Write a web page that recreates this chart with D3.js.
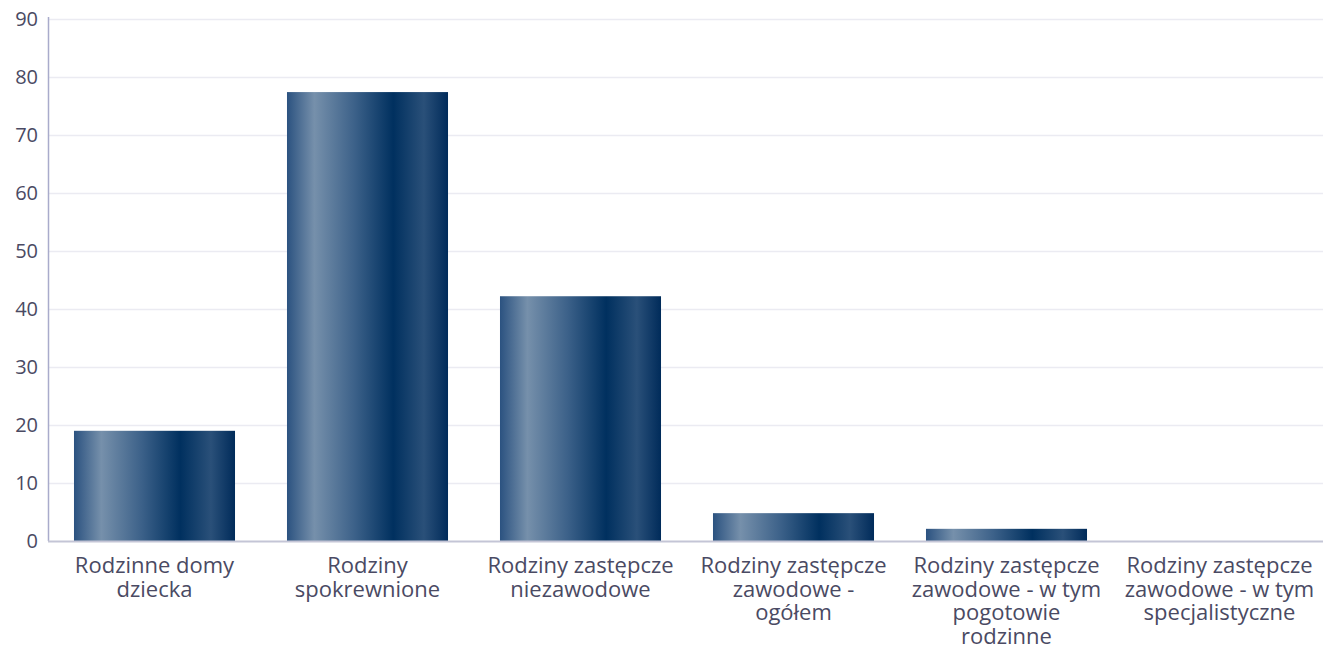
<!DOCTYPE html>
<html><head><meta charset="utf-8">
<script src="https://cdn.jsdelivr.net/npm/d3@7"></script>
<style>html,body{margin:0;padding:0;background:#fff;}svg{display:block;font-family:"Open Sans","Noto Sans",sans-serif;}</style>
</head><body>
<svg id="c" width="1323" height="647"></svg>
<script>
const categories = [
  "Rodzinne domy dziecka",
  "Rodziny spokrewnione",
  "Rodziny zastępcze niezawodowe",
  "Rodziny zastępcze zawodowe - ogółem",
  "Rodziny zastępcze zawodowe - w tym pogotowie rodzinne",
  "Rodziny zastępcze zawodowe - w tym specjalistyczne"
];
const labelLines = [
  ["Rodzinne domy", "dziecka"],
  ["Rodziny", "spokrewnione"],
  ["Rodziny zastępcze", "niezawodowe"],
  ["Rodziny zastępcze", "zawodowe -", "ogółem"],
  ["Rodziny zastępcze", "zawodowe - w tym", "pogotowie", "rodzinne"],
  ["Rodziny zastępcze", "zawodowe - w tym", "specjalistyczne"]
];
const values = [19, 77.4, 42.2, 4.8, 2.1, 0];
const yTicks = [0, 10, 20, 30, 40, 50, 60, 70, 80, 90];

const svg = d3.select("#c");
const m = {left: 48, right: 1323, top: 19, bottom: 541};
const x = d3.scaleBand().domain(categories).range([m.left, 1326]).paddingInner(0.244).paddingOuter(0.122);
const y = d3.scaleLinear().domain([0, 90]).range([m.bottom, m.top]);

const defs = svg.append("defs");
const g = defs.append("linearGradient").attr("id", "bg").attr("x1", "0").attr("x2", "1").attr("y1", "0").attr("y2", "0");
[[0, "#2b5280"], [0.17, "#7690ab"], [0.42, "#3c6189"], [0.66, "#00305f"], [0.85, "#2a5079"], [1, "#002b5a"]]
  .forEach(([o, c]) => g.append("stop").attr("offset", o).attr("stop-color", c));

// grid
svg.append("g").selectAll("line").data(yTicks.filter(d => d > 0)).join("line")
  .attr("x1", m.left).attr("x2", m.right)
  .attr("y1", d => Math.round(y(d)) + 0.5).attr("y2", d => Math.round(y(d)) + 0.5)
  .attr("stroke", "#ebebf2").attr("stroke-width", 1.5);

// y axis
const ya = svg.append("g").attr("transform", `translate(${m.left},0)`)
  .call(d3.axisLeft(y).tickValues(yTicks).tickSize(0).tickPadding(10));
ya.select(".domain").remove();
ya.selectAll("text").attr("font-size", 20).attr("fill", "#4a4a63").attr("font-family", "Open Sans");
svg.append("line").attr("x1", m.left + 0.5).attr("x2", m.left + 0.5).attr("y1", m.top - 2).attr("y2", m.bottom)
  .attr("stroke", "#a9abcb").attr("stroke-width", 1.5);

// bars
svg.append("g").selectAll("rect").data(values).join("rect")
  .attr("x", (d, i) => x(categories[i]))
  .attr("width", x.bandwidth())
  .attr("y", d => y(d))
  .attr("height", d => y(0) - y(d))
  .attr("fill", "url(#bg)");

// baseline
svg.append("line").attr("x1", m.left).attr("x2", m.right).attr("y1", m.bottom + 0.5).attr("y2", m.bottom + 0.5)
  .attr("stroke", "#c4c5d6").attr("stroke-width", 2);

// x labels
const xl = svg.append("g");
categories.forEach((c, i) => {
  const t = xl.append("text").attr("x", x(c) + x.bandwidth() / 2).attr("y", 573)
    .attr("text-anchor", "middle").attr("font-size", 22).attr("fill", "#4a4a63");
  labelLines[i].forEach((ln, j) => t.append("tspan").attr("x", x(c) + x.bandwidth() / 2).attr("dy", j === 0 ? 0 : 23.5).text(ln));
});
</script>
</body></html>
